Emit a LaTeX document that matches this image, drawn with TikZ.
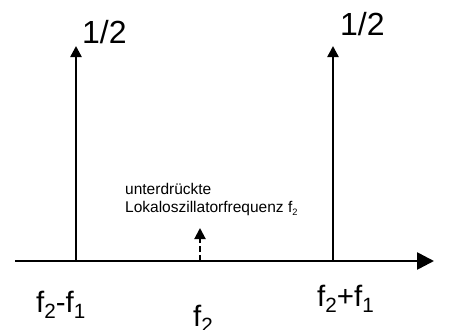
\documentclass[tikz,border=0pt]{standalone}
\usepackage{fontspec}
\setmainfont{Liberation Sans}
\usepackage{graphicx}
\usetikzlibrary{arrows.meta, positioning}

\newcommand{\lowidx}[1]{\raisebox{-0.22em}{\scalebox{0.7}{#1}}}
\newcommand{\tinyidx}[1]{\raisebox{-0.2em}{\scalebox{0.6}{#1}}}

\tikzset{
  axisline/.style={line width=2.6pt, -{Triangle[length=17pt,width=17pt]}},
  spike/.style={line width=2.4pt, -{Triangle[length=11pt,width=11pt]}},
  weakspike/.style={line width=2pt, dash pattern=on 6pt off 3pt, -{Triangle[length=11pt,width=11pt]}},
  amptext/.style={font=\fontsize{32}{32}\selectfont, inner sep=0pt},
  bigtext/.style={font=\fontsize{29.5}{29.5}\selectfont, inner sep=0pt},
  smalltext/.style={font=\fontsize{15.5}{18}\selectfont, inner sep=0pt}
}

\begin{document}
\begin{tikzpicture}[x=1pt, y=-1pt]
    \useasboundingbox (0,0) rectangle (462,329);

    % Axis
    \coordinate (start) at (15,261);
    \coordinate (end) at (434,261);
    \draw[axisline] (start) -- (end);

    % Positions on the axis
    \coordinate (lower) at (76,261);
    \coordinate (carrier) at (200,261);
    \coordinate (upper) at (333,261);

    \coordinate (lowertop) at (76,46);
    \coordinate (carriertop) at (200,228);
    \coordinate (uppertop) at (333,46);

    % Side bands
    \draw[spike] (lower) -- (lowertop);
    \draw[spike] (upper) -- (uppertop);

    % Suppressed carrier
    \draw[weakspike] (carrier) -- (carriertop);

    % Amplitudes
    \node[amptext, anchor=base west] (amplower) at (82,43) {1/2};
    \node[amptext, anchor=base west] (ampupper) at (340,36) {1/2};

    % Note on the carrier
    \node[smalltext, anchor=base west] (note1) at (125,194) {unterdrückte};
    \node[smalltext, anchor=base west] (note2) at (125,212) {Lokaloszillatorfrequenz f\tinyidx{2}};

    % Frequency labels
    \node[bigtext, anchor=base west] (flower) at (36,312) {f\lowidx{2}-f\lowidx{1}};
    \node[bigtext, anchor=base] (fcarrier) at (203,326) {f\lowidx{2}};
    \node[bigtext, anchor=base west] (fupper) at (317,306) {f\lowidx{2}+f\lowidx{1}};

\end{tikzpicture}
\end{document}
